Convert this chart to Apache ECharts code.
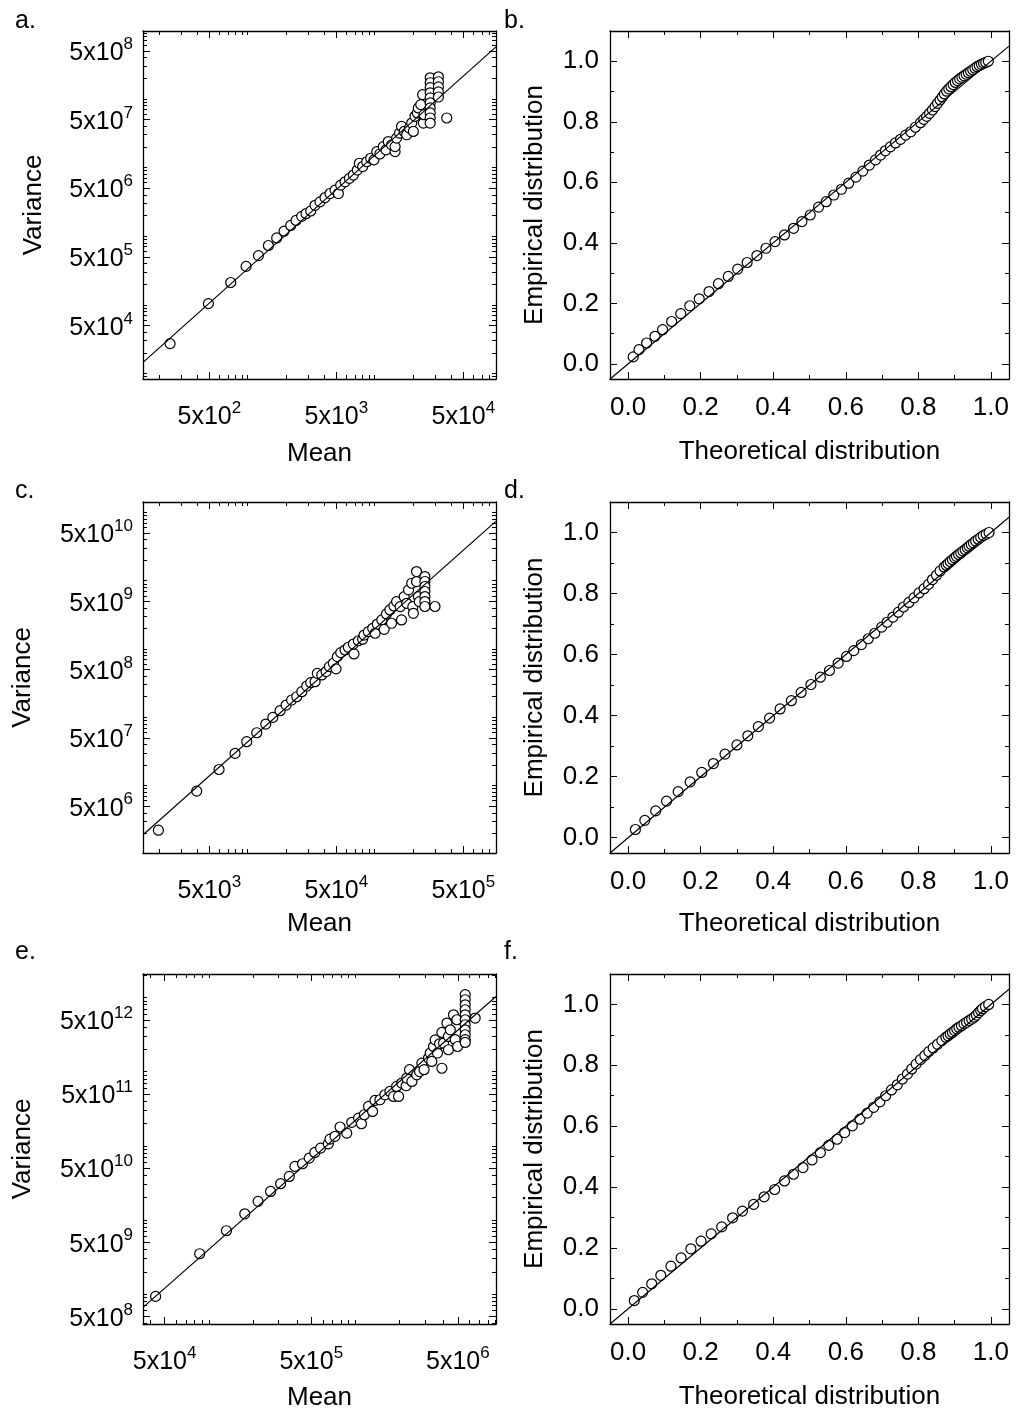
<!DOCTYPE html>
<html>
<head>
<meta charset="utf-8">
<title>Mean-variance and Q-Q plots</title>
<script src="https://cdn.jsdelivr.net/npm/echarts@6/dist/echarts.min.js"></script>
<style>
  html, body { margin: 0; padding: 0; background: #fff; }
  #main { width: 1024px; height: 1419px; }
</style>
</head>
<body>
<div id="main"></div>
<script>
// panel a: mean vs variance
const meanA = [245, 491, 736, 973, 1217, 1458, 1695, 1936, 2185, 2406, 2666, 2884, 3140, 3397, 3718,
  4070, 4457, 4883, 5185, 5408, 5850, 6327, 6804, 7310, 7580, 8054, 8664, 9310, 9900, 10400,
  11000, 11700, 12300, 12800, 13600, 14500, 14500, 14900, 15700, 16300, 17100, 17900, 18800, 19600, 20200,
  20800, 21700, 22100, 23100, 23900, 24200, 24500,
  27400, 27400, 27400, 27400, 27400, 27400, 27400, 27400, 27400, 27400,
  31800, 31800, 31800, 31800, 31800, 37000];
const varA = [2.72e4, 1.04e5, 2.11e5, 3.62e5, 5.2e5, 7.3e5, 9.4e5, 1.18e6, 1.43e6, 1.69e6, 1.94e6, 2.12e6, 2.32e6, 2.81e6, 3.15e6,
  3.64e6, 4.17e6, 4.67e6, 4.17e6, 5.52e6, 6.18e6, 6.92e6, 7.74e6, 9.17e6, 1.15e7, 1.03e7, 1.21e7, 1.36e7, 1.29e7, 1.70e7,
  1.57e7, 2.01e7, 1.80e7, 2.38e7, 2.13e7, 1.70e7, 2.01e7, 2.67e7, 3.16e7, 3.95e7, 3.34e7, 2.99e7, 3.74e7, 4.43e7, 3.34e7,
  5.55e7, 6.21e7, 7.35e7, 8.22e7, 1.15e8, 4.43e7, 5.86e7,
  2.02e8, 1.71e8, 1.45e8, 1.22e8, 1.03e8, 8.71e7, 7.35e7, 6.21e7, 5.25e7, 4.43e7,
  2.09e8, 1.77e8, 1.49e8, 1.26e8, 1.06e8, 5.25e7];
const fitA = [[150, 1.45e4], [9.04e4, 5.7e8]];

// panel c
const meanC = [1983, 3972, 5957, 7962, 9840, 11800, 13900, 15800, 18000, 20100, 22200, 24400, 26700, 29200, 31400,
  34000, 35400, 38400, 41500, 44100, 47300, 49700, 50900, 54100, 58500, 62100, 68800, 68000, 74500, 80500,
  82600, 89300, 96600, 101000, 105000, 114000, 119000, 124000, 132000, 136000, 142000, 149000, 159000, 163000, 171000,
  179000, 185000, 196000, 200000, 202000, 214000, 214000, 221000, 225000,
  249000, 249000, 249000, 249000, 249000, 249000, 249000, 299000];
const varC = [2.22e6, 8.3e6, 1.72e7, 2.96e7, 4.39e7, 5.94e7, 7.96e7, 9.97e7, 1.25e8, 1.51e8, 1.79e8, 2.0e8, 2.37e8, 2.87e8, 3.21e8,
  3.32e8, 4.40e8, 4.17e8, 4.67e8, 5.52e8, 6.18e8, 5.11e8, 7.73e8, 8.84e8, 9.67e8, 1.06e9, 8.46e8, 1.18e9, 1.32e9, 1.39e9,
  1.60e9, 1.79e9, 2.01e9, 1.70e9, 2.32e9, 2.66e9, 1.94e9, 3.26e9, 3.73e9, 2.38e9, 4.27e9, 4.94e9, 4.17e9, 2.66e9, 5.85e9,
  4.67e9, 7.33e9, 9.18e9, 4.17e9, 3.33e9, 1.36e10, 9.71e9, 5.85e9, 4.94e9,
  1.15e10, 9.73e9, 8.22e9, 6.95e9, 5.86e9, 4.95e9, 4.19e9, 4.19e9];
const fitC = [[1510, 1.92e6], [9.0e5, 7.38e10]];

// panel e
const meanE = [43400, 86700, 132000, 176000, 217000, 264000, 309000, 354000, 387000, 436000,
  484000, 529000, 579000, 653000, 671000, 726000, 786000, 873000, 944000, 1.05e6,
  1.10e6, 1.15e6, 1.23e6, 1.31e6, 1.36e6, 1.47e6, 1.59e6, 1.72e6, 1.82e6, 1.91e6,
  1.97e6, 2.07e6, 2.22e6, 2.24e6, 2.34e6, 2.43e6, 2.62e6, 2.74e6, 2.84e6, 2.94e6,
  3.15e6, 3.24e6, 3.32e6, 3.41e6, 3.50e6, 3.63e6, 3.75e6, 3.89e6, 3.89e6, 3.99e6,
  4.21e6, 4.31e6, 4.31e6, 4.44e6, 4.67e6, 4.80e6, 4.92e6, 4.98e6,
  5.61e6, 5.61e6, 5.61e6, 5.61e6, 5.61e6, 5.61e6, 5.61e6, 5.61e6, 5.61e6, 5.61e6, 5.61e6, 6.56e6];
const varE = [9.31e8, 3.50e9, 7.15e9, 1.21e10, 1.78e10, 2.42e10, 3.08e10, 3.86e10, 5.27e10, 5.72e10,
  6.82e10, 8.13e10, 9.3e10, 1.06e11, 1.23e11, 1.34e11, 1.79e11, 1.48e11, 2.07e11, 2.36e11,
  1.98e11, 2.62e11, 3.39e11, 2.90e11, 4.08e11, 4.17e11, 4.87e11, 5.40e11, 4.62e11, 6.31e11,
  4.62e11, 7.00e11, 6.44e11, 8.18e11, 1.06e12, 7.36e11, 9.06e11, 1.0e12, 1.30e12, 1.06e12,
  1.52e12, 1.78e12, 1.37e12, 2.18e12, 2.68e12, 1.78e12, 2.37e12, 3.37e12, 1.11e12, 2.42e12,
  4.51e12, 2.98e12, 1.97e12, 3.66e12, 5.83e12, 2.69e12, 5.0e12, 2.18e12,
  1.09e13, 9.31e12, 7.96e12, 6.82e12, 5.83e12, 5.0e12, 4.28e12, 3.66e12, 3.14e12, 2.69e12, 2.47e12, 5.27e12];
const fitE = [[3.56e4, 6.61e8], [9.1e6, 1.03e13]];

// panels b, d, f: theoretical vs empirical distribution
const theoB = [0.014, 0.030, 0.051, 0.074, 0.095, 0.120, 0.145, 0.170, 0.196, 0.223, 0.249, 0.276, 0.302, 0.328, 0.355,
  0.380, 0.405, 0.431, 0.456, 0.479, 0.502, 0.525, 0.546, 0.567, 0.588, 0.608, 0.628, 0.647, 0.665, 0.682,
  0.696, 0.709, 0.723, 0.737, 0.751, 0.765, 0.779, 0.792,
  0.806, 0.815, 0.823, 0.831, 0.839, 0.846, 0.853, 0.860, 0.866, 0.872, 0.878, 0.884, 0.890, 0.896, 0.902,
  0.908, 0.914, 0.920, 0.926, 0.932, 0.938, 0.944, 0.950, 0.956, 0.962, 0.968, 0.974, 0.980, 0.986, 0.993];
const empB = [0.023, 0.047, 0.069, 0.091, 0.113, 0.140, 0.166, 0.192, 0.215, 0.239, 0.265, 0.289, 0.313, 0.335, 0.358,
  0.382, 0.404, 0.426, 0.448, 0.470, 0.492, 0.518, 0.536, 0.558, 0.577, 0.597, 0.617, 0.637, 0.657, 0.674,
  0.690, 0.704, 0.717, 0.730, 0.742, 0.756, 0.767, 0.782,
  0.797, 0.808, 0.818, 0.828, 0.839, 0.850, 0.861, 0.872, 0.882, 0.892, 0.901, 0.909, 0.916, 0.923, 0.930,
  0.936, 0.942, 0.947, 0.952, 0.957, 0.962, 0.967, 0.972, 0.977, 0.982, 0.986, 0.990, 0.993, 0.996, 1.0];

const theoD = [0.020, 0.046, 0.076, 0.106, 0.138, 0.171, 0.203, 0.235, 0.267, 0.300, 0.330, 0.359, 0.390, 0.419, 0.450,
  0.477, 0.504, 0.530, 0.555, 0.579, 0.602, 0.622, 0.643, 0.662, 0.680, 0.699, 0.714, 0.730, 0.745, 0.759,
  0.774, 0.788, 0.802, 0.816, 0.828, 0.839, 0.850, 0.860,
  0.871, 0.877, 0.882, 0.888, 0.894, 0.900, 0.905, 0.911, 0.917, 0.923, 0.929, 0.935, 0.940, 0.946, 0.952,
  0.958, 0.965, 0.972, 0.979, 0.987, 0.995];
const empD = [0.027, 0.057, 0.088, 0.120, 0.151, 0.183, 0.214, 0.243, 0.274, 0.304, 0.334, 0.364, 0.392, 0.422, 0.449,
  0.476, 0.502, 0.526, 0.548, 0.572, 0.594, 0.613, 0.633, 0.652, 0.670, 0.690, 0.706, 0.723, 0.739, 0.756,
  0.771, 0.786, 0.802, 0.816, 0.830, 0.846, 0.860, 0.874,
  0.887, 0.893, 0.898, 0.905, 0.911, 0.917, 0.922, 0.928, 0.933, 0.939, 0.944, 0.950, 0.955, 0.961, 0.966,
  0.972, 0.978, 0.984, 0.990, 0.995, 1.0];

const theoF = [0.017, 0.040, 0.065, 0.090, 0.118, 0.146, 0.173, 0.201, 0.229, 0.258, 0.288, 0.315, 0.346, 0.375, 0.404,
  0.431, 0.456, 0.482, 0.507, 0.530, 0.553, 0.576, 0.597, 0.618, 0.639, 0.659, 0.677, 0.694, 0.710, 0.726,
  0.742, 0.756, 0.770, 0.782, 0.794, 0.806, 0.818, 0.829, 0.841, 0.853, 0.865,
  0.876, 0.882, 0.888, 0.894, 0.900, 0.906, 0.912, 0.919, 0.926, 0.933, 0.940, 0.947, 0.954, 0.960,
  0.966, 0.972, 0.977, 0.985, 0.994];
const empF = [0.027, 0.054, 0.082, 0.110, 0.140, 0.167, 0.197, 0.222, 0.246, 0.269, 0.299, 0.321, 0.343, 0.368, 0.392,
  0.420, 0.442, 0.464, 0.489, 0.513, 0.537, 0.557, 0.579, 0.601, 0.623, 0.643, 0.662, 0.680, 0.700, 0.719,
  0.736, 0.755, 0.771, 0.788, 0.804, 0.819, 0.832, 0.845, 0.857, 0.869, 0.881,
  0.892, 0.897, 0.903, 0.908, 0.914, 0.920, 0.925, 0.930, 0.936, 0.941, 0.947, 0.952, 0.958, 0.965,
  0.973, 0.980, 0.986, 0.993, 1.0];
const diagLine = [[-0.05, -0.05], [1.05, 1.05]];

// tick labels
const xTicksA = [5e2, 5e3, 5e4];
const yTicksA = [5e4, 5e5, 5e6, 5e7, 5e8];
const xTicksC = [5e3, 5e4, 5e5];
const yTicksC = [5e6, 5e7, 5e8, 5e9, 5e10];
const xTicksE = [5e4, 5e5, 5e6];
const yTicksE = [5e8, 5e9, 5e10, 5e11, 5e12];
const probTicks = [0, 0.2, 0.4, 0.6, 0.8, 1.0];
const probMinor = [0.1, 0.3, 0.5, 0.7, 0.9];

const FONT = 'Liberation Sans, Arial, sans-serif';
const NARROW = 'Liberation Sans Narrow, Arial Narrow, Liberation Sans, sans-serif';

function zip(xs, ys) {
  return xs.map((x, i) => [x, ys[i]]);
}

// k x 10^n minor ticks on a log axis, without the labelled 5 x 10^n
function logMinor(min, max) {
  const out = [];
  for (let e = Math.floor(Math.log10(min)); e <= Math.ceil(Math.log10(max)); e++) {
    for (let k = 1; k <= 9; k++) {
      if (k === 5) continue;
      const v = k * Math.pow(10, e);
      if (v > min && v < max) out.push(v);
    }
  }
  return out;
}

const powLabel = function (v) {
  const e = Math.round(Math.log10(v / 5));
  return '{b|5x10}{s|' + e + '}';
};
const powRich = {
  b: { fontFamily: NARROW, fontSize: 25, lineHeight: 30, verticalAlign: 'bottom', color: '#000' },
  s: { fontFamily: FONT, fontSize: 17, lineHeight: 17, verticalAlign: 'top', color: '#000' }
};

// builds the labelled axis, its minor-tick twin and the mirrored pair on the far side
function axisSet(dim, grid, c) {
  const near = dim === 'x' ? 'bottom' : 'left';
  const far = dim === 'x' ? 'top' : 'right';
  const base = {
    type: c.type, gridIndex: grid, min: c.min, max: c.max,
    splitLine: { show: false }, silent: true
  };
  if (c.type === 'log') base.logBase = 10;
  const line = { show: true, onZero: false, lineStyle: { color: '#000', width: 1.3 } };
  const noLine = { show: false, onZero: false };
  const tick = (vals, len) => ({
    show: true, inside: true, length: len, customValues: vals,
    lineStyle: { color: '#000', width: 1 }
  });
  const label = c.type === 'log'
    ? { show: true, customValues: c.major, formatter: powLabel, rich: powRich, margin: c.margin }
    : { show: true, customValues: c.major, formatter: v => v.toFixed(1),
        fontFamily: FONT, fontSize: 26, color: '#000', margin: c.margin };
  return [
    Object.assign({}, base, {
      position: near, axisLine: line, axisTick: tick(c.major, 7), axisLabel: label,
      name: c.name, nameLocation: 'middle', nameGap: c.nameGap, nameRotate: dim === 'y' ? 90 : 0,
      nameMoveOverlap: false,
      nameTextStyle: { fontFamily: FONT, fontSize: 26, color: '#000' }
    }),
    Object.assign({}, base, {
      position: near, axisLine: noLine, axisTick: tick(c.minor, 4), axisLabel: { show: false }
    }),
    Object.assign({}, base, {
      position: far, axisLine: line, axisTick: tick(c.major, 7), axisLabel: { show: false }
    }),
    Object.assign({}, base, {
      position: far, axisLine: noLine, axisTick: tick(c.minor, 4), axisLabel: { show: false }
    })
  ];
}

const panels = [
  { letter: 'a.', lx: 15, ly: 21, grid: { left: 143, top: 31, width: 353, height: 348 },
    x: { type: 'log', min: 150, max: 9.04e4, major: xTicksA, name: 'Mean', nameGap: 62, margin: 21 },
    y: { type: 'log', min: 8.3e3, max: 9.7e8, major: yTicksA, name: 'Variance', nameGap: 96, margin: 10 },
    pts: zip(meanA, varA), fit: fitA },
  { letter: 'b.', lx: 504, ly: 21, grid: { left: 610, top: 31, width: 399, height: 348 },
    x: { type: 'value', min: -0.05, max: 1.05, major: probTicks, minor: probMinor, name: 'Theoretical distribution', nameGap: 60, margin: 16 },
    y: { type: 'value', min: -0.05, max: 1.1, major: probTicks, minor: probMinor, name: 'Empirical distribution', nameGap: 62, margin: 11 },
    pts: zip(theoB, empB), fit: diagLine },
  { letter: 'c.', lx: 15, ly: 491, grid: { left: 143, top: 502, width: 353, height: 351 },
    x: { type: 'log', min: 1500, max: 9.04e5, major: xTicksC, name: 'Mean', nameGap: 58, margin: 21 },
    y: { type: 'log', min: 1.03e6, max: 1.42e11, major: yTicksC, name: 'Variance', nameGap: 107, margin: 10 },
    pts: zip(meanC, varC), fit: fitC },
  { letter: 'd.', lx: 504, ly: 491, grid: { left: 610, top: 502, width: 399, height: 351 },
    x: { type: 'value', min: -0.05, max: 1.05, major: probTicks, minor: probMinor, name: 'Theoretical distribution', nameGap: 58, margin: 16 },
    y: { type: 'value', min: -0.05, max: 1.1, major: probTicks, minor: probMinor, name: 'Empirical distribution', nameGap: 62, margin: 11 },
    pts: zip(theoD, empD), fit: diagLine },
  { letter: 'e.', lx: 15, ly: 952, grid: { left: 143, top: 974, width: 353, height: 350 },
    x: { type: 'log', min: 3.56e4, max: 9.1e6, major: xTicksE, name: 'Mean', nameGap: 61, margin: 21 },
    y: { type: 'log', min: 3.95e8, max: 2.07e13, major: yTicksE, name: 'Variance', nameGap: 107, margin: 10 },
    pts: zip(meanE, varE), fit: fitE },
  { letter: 'f.', lx: 504, ly: 952, grid: { left: 610, top: 974, width: 399, height: 350 },
    x: { type: 'value', min: -0.05, max: 1.05, major: probTicks, minor: probMinor, name: 'Theoretical distribution', nameGap: 60, margin: 16 },
    y: { type: 'value', min: -0.05, max: 1.1, major: probTicks, minor: probMinor, name: 'Empirical distribution', nameGap: 62, margin: 11 },
    pts: zip(theoF, empF), fit: diagLine }
];

const grids = [], xAxes = [], yAxes = [], series = [], texts = [];
panels.forEach((p, i) => {
  grids.push(Object.assign({ containLabel: false, outerBoundsMode: 'none' }, p.grid));
  if (p.x.type === 'log') {
    p.x.minor = logMinor(p.x.min, p.x.max);
    p.y.minor = logMinor(p.y.min, p.y.max);
  }
  const xi = xAxes.length, yi = yAxes.length;
  xAxes.push(...axisSet('x', i, p.x));
  yAxes.push(...axisSet('y', i, p.y));
  series.push({
    type: 'scatter', xAxisIndex: xi, yAxisIndex: yi, data: p.pts,
    symbol: 'circle', symbolSize: 10, z: 2,
    itemStyle: { color: '#fff', borderColor: '#000', borderWidth: 1.2, opacity: 1 }
  });
  series.push({
    type: 'line', xAxisIndex: xi, yAxisIndex: yi, data: p.fit,
    symbol: 'none', z: 3, clip: true,
    lineStyle: { color: '#000', width: 1.2 }
  });
  texts.push({
    type: 'text', left: p.lx, top: p.ly - 12,
    style: { text: p.letter, fill: '#000', font: '25px ' + FONT }
  });
});

const chart = echarts.init(document.getElementById('main'), null, { renderer: 'canvas' });
chart.setOption({
  backgroundColor: '#fff',
  animation: false,
  textStyle: { fontFamily: FONT },
  grid: grids,
  xAxis: xAxes,
  yAxis: yAxes,
  series: series,
  graphic: texts
});
</script>
</body>
</html>
